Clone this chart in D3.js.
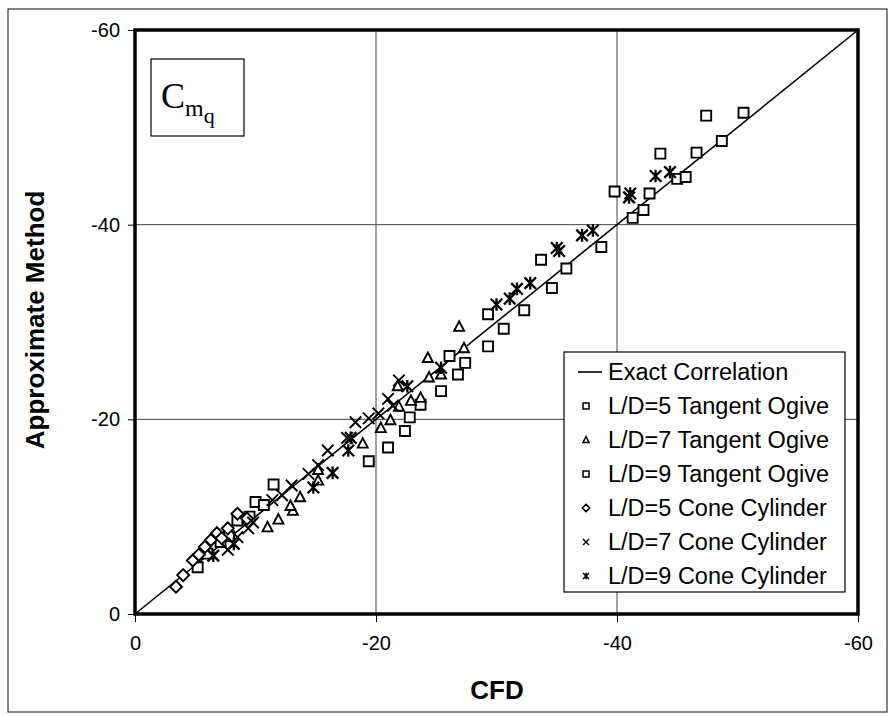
<!DOCTYPE html>
<html><head><meta charset="utf-8">
<script src="https://cdn.jsdelivr.net/npm/d3@7/dist/d3.min.js"></script>
<style>body{margin:0;background:#fff}svg{display:block}</style>
</head><body>
<svg id="c" width="891" height="716"></svg>
<script>
// ---- data (CFD, Approximate Method) ----
const xTicks = [0, -20, -40, -60];
const yTicks = [0, -20, -40, -60];
const seriesNames = ["Exact Correlation","L/D=5 Tangent Ogive","L/D=7 Tangent Ogive","L/D=9 Tangent Ogive","L/D=5 Cone Cylinder","L/D=7 Cone Cylinder","L/D=9 Cone Cylinder"];

const to5_cfd    = [-5.2,-6.0,-7.1,-7.8,-8.5,-9.5,-10.0,-10.7,-11.5,-19.4,-21.0,-22.4,-22.8,-23.7,-25.4,-26.8,-26.1,-27.4];
const to5_approx = [-4.8,-6.2,-7.4,-8.0,-9.6,-10.0,-11.5,-11.2,-13.3,-15.7,-17.1,-18.8,-20.2,-21.5,-22.9,-24.6,-26.5,-25.8];
const to7_cfd    = [-11.0,-11.9,-13.1,-12.9,-13.7,-15.2,-15.2,-18.9,-20.4,-21.2,-21.9,-22.9,-23.7,-21.8,-24.4,-25.4,-24.3,-27.3,-26.9];
const to7_approx = [-8.9,-9.7,-10.6,-11.1,-12.0,-13.7,-14.8,-17.5,-19.1,-19.9,-21.3,-21.9,-22.2,-23.4,-24.3,-24.6,-26.3,-27.3,-29.5];
const to9_cfd    = [-29.3,-29.3,-30.6,-32.3,-34.6,-35.8,-33.7,-38.7,-39.8,-41.3,-42.2,-42.7,-45.0,-45.7,-43.6,-46.6,-48.7,-47.4,-50.5];
const to9_approx = [-27.5,-30.8,-29.3,-31.2,-33.5,-35.5,-36.4,-37.7,-43.4,-40.7,-41.5,-43.2,-44.7,-44.9,-47.3,-47.4,-48.6,-51.2,-51.5];
const cc5_cfd    = [-3.4,-4.0,-4.8,-5.3,-5.8,-6.3,-6.8,-7.2,-7.7,-8.5,-9.3];
const cc5_approx = [-2.8,-4.0,-5.5,-6.1,-6.9,-7.6,-8.3,-7.8,-8.8,-10.3,-9.8];
const cc7_cfd    = [-7.7,-8.5,-9.4,-9.8,-11.4,-12.2,-13.0,-14.4,-15.2,-16.0,-17.6,-18.3,-19.4,-20.2,-21.4,-21.0,-21.9];
const cc7_approx = [-6.6,-7.9,-8.8,-9.4,-11.7,-12.2,-13.2,-14.4,-15.3,-16.8,-18.1,-19.7,-20.1,-20.6,-21.4,-22.1,-24.0];
const cc9_cfd    = [-6.5,-8.2,-14.8,-16.4,-17.7,-17.9,-22.6,-25.4,-30.0,-31.1,-31.7,-32.8,-35.0,-35.2,-37.1,-38.0,-41.0,-41.1,-43.2,-44.4];
const cc9_approx = [-6.0,-7.2,-13.0,-14.5,-16.8,-18.1,-23.4,-25.3,-31.8,-32.4,-33.4,-34.0,-37.6,-37.3,-38.9,-39.4,-42.8,-43.2,-45.0,-45.4];

const series = [
  {name: seriesNames[1], cfd: to5_cfd, approx: to5_approx, sym: "square"},
  {name: seriesNames[2], cfd: to7_cfd, approx: to7_approx, sym: "triangle"},
  {name: seriesNames[3], cfd: to9_cfd, approx: to9_approx, sym: "square"},
  {name: seriesNames[4], cfd: cc5_cfd, approx: cc5_approx, sym: "diamond"},
  {name: seriesNames[5], cfd: cc7_cfd, approx: cc7_approx, sym: "x"},
  {name: seriesNames[6], cfd: cc9_cfd, approx: cc9_approx, sym: "asterisk"}
];

// ---- drawing ----
const svg = d3.select("#c");
const L = 135, R = 858, T = 30, B = 614;
const x = d3.scaleLinear().domain([0, -60]).range([L, R]);
const y = d3.scaleLinear().domain([0, -60]).range([B, T]);
const SANS = "Liberation Sans, Arial, sans-serif";

// outer frame
svg.append("rect").attr("x", 8).attr("y", 9).attr("width", 879).attr("height", 703)
  .attr("fill", "none").attr("stroke", "#333").attr("stroke-width", 1.2);

// gridlines
const g = svg.append("g");
g.selectAll(".gx").data(xTicks.slice(1, -1)).enter().append("line")
  .attr("x1", d => x(d)).attr("x2", d => x(d)).attr("y1", T).attr("y2", B)
  .attr("stroke", "#444").attr("stroke-width", 1);
g.selectAll(".gy").data(yTicks.slice(1, -1)).enter().append("line")
  .attr("y1", d => y(d)).attr("y2", d => y(d)).attr("x1", L).attr("x2", R)
  .attr("stroke", "#444").attr("stroke-width", 1);

// axes
const xAxis = d3.axisBottom(x).tickValues(xTicks).tickSize(8).tickPadding(14).tickFormat(d3.format("d"));
const yAxis = d3.axisLeft(y).tickValues(yTicks).tickSize(7).tickPadding(8).tickFormat(d3.format("d"));
const ax = svg.append("g").attr("transform", `translate(0,${B})`).call(xAxis);
const ay = svg.append("g").attr("transform", `translate(${L},0)`).call(yAxis);
[ax, ay].forEach(a => {
  a.select(".domain").remove();
  a.selectAll("line").attr("stroke", "#000").attr("stroke-width", 1);
  a.selectAll("text").attr("font-family", SANS)
    .attr("font-size", 20).attr("fill", "#000").text(d => d === 0 ? "0" : "-" + Math.abs(d));
});

// exact correlation line
svg.append("line").attr("x1", x(0)).attr("y1", y(0)).attr("x2", x(-60)).attr("y2", y(-60))
  .attr("stroke", "#000").attr("stroke-width", 1.6);

// symbol paths
function symPath(sym, s) {
  const h = s / 2;
  switch (sym) {
    case "square": return `M${-h},${-h}H${h}V${h}H${-h}Z`;
    case "triangle": return `M0,${-h * 1.1}L${h},${h * 0.8}H${-h}Z`;
    case "diamond": return `M0,${-h * 1.2}L${h * 1.2},0L0,${h * 1.2}L${-h * 1.2},0Z`;
    case "x": return `M${-h},${-h}L${h},${h}M${-h},${h}L${h},${-h}`;
    case "asterisk": return `M${-h},${-h}L${h},${h}M${-h},${h}L${h},${-h}M0,${-h * 1.1}V${h * 1.1}`;
  }
}

const pts = svg.append("g");
series.forEach(s => {
  const data = s.cfd.map((c, i) => ({c, a: s.approx[i]}));
  pts.selectAll(null).data(data).enter().append("path")
    .attr("transform", d => `translate(${x(d.c)},${y(d.a)})`)
    .attr("d", symPath(s.sym, s.sym === "x" || s.sym === "asterisk" ? 11.5 : 10))
    .attr("fill", (s.sym === "x" || s.sym === "asterisk") ? "none" : "#fff")
    .attr("stroke", "#000").attr("stroke-width", s.sym === "asterisk" ? 2.3 : 1.9);
});

// plot border
svg.append("rect").attr("x", L).attr("y", T).attr("width", R - L).attr("height", B - T)
  .attr("fill", "none").attr("stroke", "#000").attr("stroke-width", 3.5);

// title box
svg.append("rect").attr("x", 151).attr("y", 59).attr("width", 93).attr("height", 77)
  .attr("fill", "#fff").attr("stroke", "#000").attr("stroke-width", 1.2);
const tt = svg.append("text").attr("x", 161).attr("y", 108)
  .attr("font-family", "Liberation Serif, Times New Roman, serif").attr("fill", "#000");
tt.append("tspan").attr("font-size", 36).text("C");
tt.append("tspan").attr("font-size", 24).attr("dy", 8).text("m");
tt.append("tspan").attr("font-size", 22).attr("dy", 7).text("q");

// legend
const lg = svg.append("g");
lg.append("rect").attr("x", 564).attr("y", 352).attr("width", 281).attr("height", 240)
  .attr("fill", "#fff").attr("stroke", "#000").attr("stroke-width", 1.2);
const rowY = i => 372 + i * 34;
lg.append("line").attr("x1", 578).attr("x2", 602).attr("y1", rowY(0)).attr("y2", rowY(0))
  .attr("stroke", "#000").attr("stroke-width", 1.6);
series.forEach((s, i) => {
  lg.append("path").attr("transform", `translate(${586},${rowY(i + 1)})`)
    .attr("d", symPath(s.sym, 6)).attr("fill", "none").attr("stroke", "#000").attr("stroke-width", 1.5);
});
lg.selectAll(".lt").data(seriesNames).enter().append("text")
  .attr("x", 608).attr("y", (d, i) => rowY(i)).attr("dy", "0.35em")
  .attr("font-family", SANS).attr("font-size", 23.5).attr("fill", "#000")
  .text(d => d);

// axis titles
svg.append("text").attr("x", 497).attr("y", 699).attr("text-anchor", "middle")
  .attr("font-family", SANS).attr("font-weight", "bold")
  .attr("font-size", 26).text("CFD");
svg.append("text").attr("transform", "translate(44,320) rotate(-90)").attr("text-anchor", "middle")
  .attr("font-family", SANS).attr("font-weight", "bold")
  .attr("font-size", 26).text("Approximate Method");
</script>
</body></html>
